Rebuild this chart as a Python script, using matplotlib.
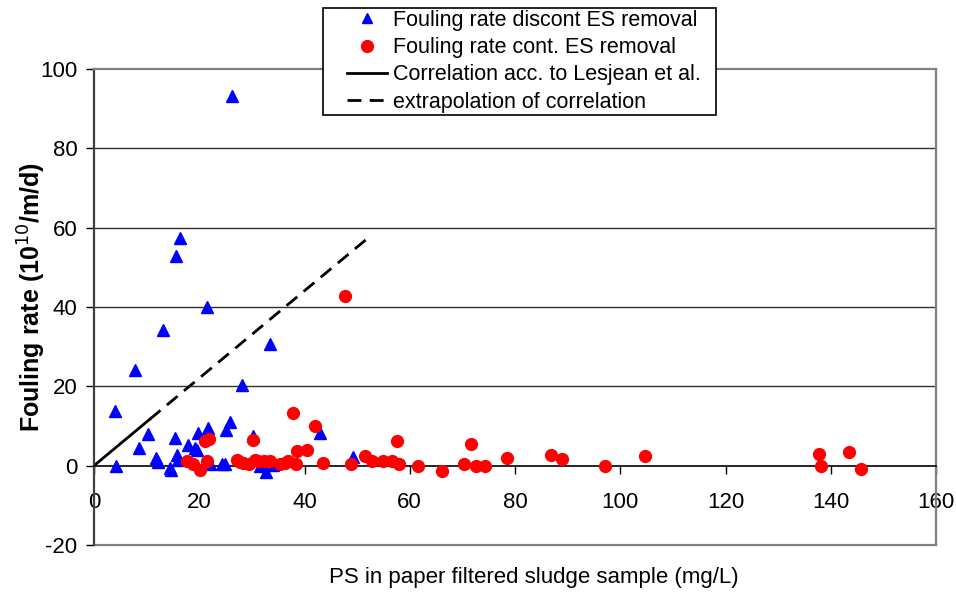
import matplotlib
matplotlib.use("Agg")
import matplotlib.pyplot as plt
from matplotlib.lines import Line2D
from matplotlib.patches import Rectangle

plt.rcParams["font.family"] = ["Liberation Sans", "DejaVu Sans"]
plt.rcParams["axes.unicode_minus"] = False

# =========================
# data
# =========================

# Fouling rate, discontinuous ES removal
disc_x = [4.0, 4.2, 7.7, 8.6, 10.3, 11.7, 12.2, 13.1, 14.4, 14.6, 15.4, 15.5,
          15.7, 15.9, 16.4, 17.9, 19.2, 19.6, 19.7, 21.5, 21.7, 22.0, 24.3,
          24.8, 25.0, 25.9, 26.2, 28.2, 30.3, 31.5, 32.7, 33.4, 34.1, 42.9, 49.2]
disc_y = [13.9, 0.0, 24.2, 4.5, 8.1, 2.0, 0.8, 34.3, -0.6, -1.2, 7.0, 52.8,
          2.8, 1.5, 57.4, 5.3, 4.5, 4.0, 8.2, 40.1, 9.6, 0.5, 0.3,
          0.3, 9.1, 11.0, 93.2, 20.4, 7.5, 0.0, -1.7, 30.7, 0.2, 8.2, 2.3]

# Fouling rate, continuous ES removal
cont_x = [17.6, 18.9, 20.1, 21.1, 21.4, 21.9, 27.1, 27.8, 28.4, 29.4, 30.3,
          30.5, 31.2, 32.3, 33.4, 35.3, 36.2, 36.8, 37.9, 38.3, 38.5, 40.4,
          42.0, 43.5, 47.7, 48.9, 51.5, 52.8, 55.0, 56.6, 57.5, 58.0, 61.5,
          66.1, 70.4, 71.7, 72.6, 74.3, 78.4, 86.8, 89.0, 97.1, 104.7, 137.8,
          138.2, 143.5, 145.7]
cont_y = [1.1, 0.5, -1.0, 6.1, 1.1, 6.7, 1.5, 1.0, 0.7, 0.5, 6.5,
          1.5, 1.2, 1.3, 1.1, 0.3, 0.7, 1.2, 13.3, 0.3, 3.6, 4.0,
          9.9, 0.6, 42.7, 0.3, 2.4, 1.3, 1.3, 1.2, 6.3, 0.3, 0.0,
          -1.3, 0.4, 5.5, -0.2, -0.2, 1.9, 2.8, 1.8, -0.2, 2.5, 3.0,
          0.0, 3.4, -0.8]

# correlation (Lesjean et al.) and its extrapolation
corr_x = [0.0, 10.6]
corr_y = [0.0, 11.7]
extrap_x = [10.6, 51.8]
extrap_y = [11.7, 57.1]

x_ticks = [0, 20, 40, 60, 80, 100, 120, 140, 160]
y_ticks = [-20, 0, 20, 40, 60, 80, 100]

# =========================
# plot
# =========================

W, H = 956, 594
fig = plt.figure(figsize=(W / 100, H / 100), dpi=100)
ax = fig.add_axes([94 / W, 1 - 545 / H, 842 / W, 476 / H])

ax.set_xlim(0, 160)
ax.set_ylim(-20, 100)

for yv in [20, 40, 60, 80]:
    ax.axhline(yv, color="#303030", lw=1.0, zorder=1)
ax.axhline(-20, color="#808080", lw=1.6, zorder=1, clip_on=False)

ax.plot(disc_x, disc_y, ls="none", marker="^", ms=8.5, color="#0000FF",
        mec="#0000FF", zorder=3, clip_on=False)
ax.plot(cont_x, cont_y, ls="none", marker="o", ms=8.5, color="#FF0000",
        mec="#FF0000", zorder=4, clip_on=False)
ax.plot(corr_x, corr_y, color="black", lw=2.0, zorder=2)
ax.plot(extrap_x, extrap_y, color="black", lw=2.0, dashes=(5, 3), zorder=2)

# x-axis sits at y=0, grey border round the plot area
ax.spines["bottom"].set_position(("data", 0))
ax.spines["bottom"].set_color("black")
ax.spines["bottom"].set_linewidth(1.2)
ax.spines["left"].set_color("#404040")
ax.spines["left"].set_linewidth(1.6)
for s in ["top", "right"]:
    ax.spines[s].set_color("#808080")
    ax.spines[s].set_linewidth(1.6)

ax.set_xticks(x_ticks)
ax.set_yticks(y_ticks)
ax.tick_params(axis="x", direction="out", length=6, width=1, pad=13,
               labelsize=16)
ax.tick_params(axis="y", direction="out", length=6, width=1, pad=6,
               labelsize=16)

ax.set_xlabel("PS in paper filtered sludge sample (mg/L)", fontsize=16)
ax.xaxis.set_label_coords(0.522, -0.046)
ax.set_ylabel("Fouling rate (10$^{10}$/m/d)", fontsize=18,
              fontweight="bold")
ax.yaxis.set_label_coords(-0.055, 0.52)

# legend box drawn by hand so the inner padding can match
fig.patches.append(Rectangle((323 / W, 1 - 115 / H), 393 / W, 107 / H,
                             transform=fig.transFigure, facecolor="white",
                             edgecolor="black", lw=1.2, zorder=2))

handles = [
    Line2D([], [], ls="none", marker="^", ms=7, color="#0000FF"),
    Line2D([], [], ls="none", marker="o", ms=8.5, color="#FF0000"),
    Line2D([], [], color="black", lw=2.0),
    Line2D([], [], color="black", lw=2.0, dashes=(5, 3)),
]
labels = [
    "Fouling rate discont ES removal",
    "Fouling rate cont. ES removal",
    "Correlation acc. to Lesjean et al.",
    "extrapolation of correlation",
]
leg = fig.legend(handles, labels, loc="upper left",
                 bbox_to_anchor=(347 / W, 1 - 10 / H), fontsize=15.5,
                 frameon=False, handlelength=1.85, handletextpad=0.28,
                 labelspacing=0.29, borderpad=0, borderaxespad=0)
leg.set_zorder(3)

fig.savefig("out.png", dpi=100)
